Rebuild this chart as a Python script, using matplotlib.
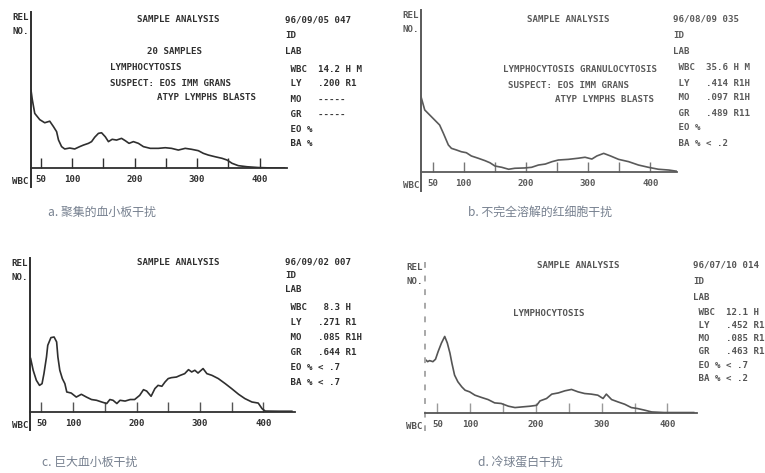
import matplotlib.pyplot as plt

plt.rcParams['font.family'] = ['DejaVu Sans Mono']
plt.rcParams['font.weight'] = 'bold'

FIG_W, FIG_H = 765, 473
FS = 6.6

# WBC size distributions (fL vs relative count) for the four interference cases
A_FL = [34, 36, 40, 48, 56, 64, 70, 75, 78, 83, 88, 96, 104, 112, 118, 126, 131,
        136, 142, 147, 153, 158, 164, 171, 179, 185, 191, 198, 206, 214, 225, 238,
        249, 259, 270, 281, 291, 302, 310, 318, 329, 340, 348, 356, 366, 380, 398,
        420, 440]
A_CNT = [50, 44, 35, 31, 29, 30, 26.5, 23.3, 18, 13.7, 12.2, 12.8, 12.2, 13.7, 14.7,
         15.8, 16.9, 19.7, 22.2, 22.6, 20, 16.9, 18.4, 17.9, 19, 17.5, 15.8, 16.9,
         15.8, 13.7, 12.6, 12.6, 13, 12.6, 11.5, 12.6, 12, 11.1, 9.4, 8.3, 7.2, 6.2,
         5.1, 3, 1.5, 0.8, 0.3, 0, 0]

B_FL = [31, 37, 45, 53, 61, 67, 75, 80, 88, 96, 104, 112, 123, 134, 142, 150, 161,
        172, 182, 198, 209, 220, 231, 242, 252, 268, 284, 295, 306, 314, 325, 336,
        349, 365, 381, 397, 413, 430, 442]
B_CNT = [46.5, 38.3, 35.2, 32.1, 29, 23.9, 16.7, 14.6, 13.6, 12.5, 11.9, 9.9, 8.5, 7,
         5.7, 3.7, 2.9, 1.7, 2.3, 2.5, 2.9, 4.3, 4.9, 6.4, 7.4, 7.8, 8.5, 9.1, 8, 9.9,
         11.5, 9.9, 7.8, 6.4, 4.3, 2.9, 1.7, 1.2, 0.5]

C_FL = [33, 37, 42, 47, 51, 54, 58, 60, 65, 70, 74, 76, 79, 83, 87, 90, 97, 105, 113,
        121, 129, 137, 145, 153, 158, 163, 169, 174, 182, 190, 197, 205, 211, 216,
        223, 229, 234, 240, 245, 250, 255, 263, 269, 276, 282, 287, 292, 297, 305,
        311, 319, 329, 340, 350, 361, 371, 382, 392, 398, 403, 424, 445]
C_CNT = [34.7, 27.1, 20.6, 17.3, 18.4, 24.9, 35.7, 43.3, 48.3, 48.7, 45.5, 35.7, 27.1,
         21.7, 18.4, 13, 12.3, 9.7, 11.5, 9.7, 8.1, 7.6, 6.5, 5.5, 8.1, 7.6, 5.5, 7.6,
         7.1, 8.1, 8.1, 10.8, 14.5, 13.6, 10.2, 15.2, 17.3, 16.7, 19.5, 21.7, 22.3,
         22.7, 23.8, 24.9, 27.5, 26, 27.1, 25.3, 28.2, 24.9, 23.8, 21.7, 18.4, 15.2,
         11.5, 8.7, 6.5, 5.8, 2.2, 0.6, 0.5, 0.5]

D_FL = [31, 35, 38, 43, 47, 51, 56, 61, 65, 69, 72, 76, 81, 87, 92, 99, 107, 117, 127,
        137, 147, 158, 168, 178, 191, 201, 206, 216, 224, 234, 244, 254, 264, 274,
        284, 294, 302, 307, 315, 325, 335, 345, 355, 366, 376, 395, 440]
D_CNT = [35.6, 34, 34.7, 34, 35.6, 40.7, 46.3, 50.7, 46.3, 39.6, 32.9, 25.1, 20.7,
         17.3, 15.1, 14, 11.8, 10.3, 8.9, 6.7, 6.3, 4.5, 3.6, 4, 4.5, 5.1, 8, 9.6,
         12.5, 13.3, 14.7, 15.6, 14, 12.9, 12.5, 11.8, 9.6, 12.5, 8.9, 7.3, 5.8, 3.6,
         2.9, 1.8, 0.7, 0.3, 0.3]

TICK_FL = [50, 100, 150, 200, 250, 300, 350, 400]
TICK_LABELS = ['50', '100', '', '200', '', '300', '', '400']

# printout text next to each histogram
A_INFO = ['96/09/05 047', 'ID', 'LAB', ' WBC  14.2 H M', ' LY   .200 R1',
          ' MO   -----', ' GR   -----', ' EO %', ' BA %']
B_INFO = ['96/08/09 035', 'ID', 'LAB', ' WBC  35.6 H M', ' LY   .414 R1H',
          ' MO   .097 R1H', ' GR   .489 R11', ' EO %', ' BA % < .2']
C_INFO = ['96/09/02 007', 'ID', 'LAB', ' WBC   8.3 H', ' LY   .271 R1',
          ' MO   .085 R1H', ' GR   .644 R1', ' EO % < .7', ' BA % < .7']
D_INFO = ['96/07/10 014', 'ID', 'LAB', ' WBC  12.1 H', ' LY   .452 R1',
          ' MO   .085 R1', ' GR   .463 R1', ' EO % < .7', ' BA % < .2']

A_FLAGS = [('20 SAMPLES', 147, 52), ('LYMPHOCYTOSIS', 110, 68),
           ('SUSPECT: EOS IMM GRANS', 110, 83), ('ATYP LYMPHS BLASTS', 157, 98)]
B_FLAGS = [('LYMPHOCYTOSIS GRANULOCYTOSIS', 503, 70),
           ('SUSPECT: EOS IMM GRANS', 508, 85), ('ATYP LYMPHS BLASTS', 555, 100)]
C_FLAGS = []
D_FLAGS = [('LYMPHOCYTOSIS', 513, 313)]

CAPTIONS = ['a. 聚集的血小板干扰', 'b. 不完全溶解的红细胞干扰',
            'c. 巨大血小板干扰', 'd. 冷球蛋白干扰']


def px_text(fig, x, y, s, **kw):
    """Place text using pixel coordinates measured from the top-left corner."""
    return fig.text(x / FIG_W, 1 - y / FIG_H, s, **kw)


def draw_panel(fig, fl, cnt, info, flags, caption, lay):
    left, base, top, right = lay['box']
    lo, hi = lay['fl_range']
    ink = lay['ink']
    ax = fig.add_axes([left / FIG_W, 1 - base / FIG_H,
                       (right - left) / FIG_W, (base - top) / FIG_H])
    ax.patch.set_alpha(0)
    ax.set_xlim(lo, hi)
    ax.set_ylim(0, 100)
    ax.plot(fl, cnt, color=ink, lw=1.2, solid_joinstyle='round')
    for side in ('top', 'right', 'left'):
        ax.spines[side].set_visible(False)
    ax.spines['bottom'].set_color(ink)
    ax.spines['bottom'].set_linewidth(1.3)
    ax.set_yticks([])
    ax.set_xticks(TICK_FL)
    ax.set_xticklabels(TICK_LABELS)
    ax.tick_params(axis='x', direction='in', length=7, width=1,
                   colors=lay['tick_ink'], labelcolor=ink, pad=5, labelsize=FS)
    # vertical axis also runs down through the label row
    ax.plot([lo, lo], [100, -12], color=lay['yaxis_ink'], lw=1.4,
            ls=lay['yaxis_ls'], clip_on=False)

    px_text(fig, left - 2, base + 13, 'WBC', ha='right', va='center',
            fontsize=FS, color=ink)
    px_text(fig, left - 2, top + 6, 'REL', ha='right', va='center',
            fontsize=FS, color=ink)
    px_text(fig, left - 2, top + 19, 'NO.', ha='right', va='center',
            fontsize=FS, color=ink)

    px_text(fig, lay['title_x'], lay['info_y'], 'SAMPLE ANALYSIS', ha='center',
            va='center', fontsize=FS, color=ink)
    for s, x, y in flags:
        px_text(fig, x, y, s, ha='left', va='center', fontsize=FS, color=ink)

    y0, head_gap = lay['info_y'], lay['head_gap']
    first_row, step = lay['first_row'], lay['row_step']
    for i, s in enumerate(info):
        y = y0 + i * head_gap if i < 3 else y0 + first_row + (i - 3) * step
        px_text(fig, lay['info_x'], y, s, ha='left', va='center',
                fontsize=FS, color=ink)

    cx, cy = lay['caption']
    px_text(fig, cx, cy, caption, ha='left', va='center', fontsize=8.6,
            color='#76808f', family=['Noto Sans CJK SC', 'DejaVu Sans'],
            weight='light')


LAYOUT = [
    dict(box=(31, 168, 12, 287), fl_range=(34, 444), ink='#2f2f2f',
         tick_ink='#2f2f2f', yaxis_ink='#2f2f2f', yaxis_ls='-',
         title_x=178, info_x=285, info_y=20, head_gap=16, first_row=49,
         row_step=15, caption=(48, 212)),
    dict(box=(421, 172, 10, 677), fl_range=(31, 443), ink='#5a5a5a',
         tick_ink='#777777', yaxis_ink='#5a5a5a', yaxis_ls='-',
         title_x=568, info_x=673, info_y=19, head_gap=16, first_row=49,
         row_step=15, caption=(468, 212)),
    dict(box=(30, 412, 258, 295), fl_range=(32, 450), ink='#2f2f2f',
         tick_ink='#555555', yaxis_ink='#2f2f2f', yaxis_ls='-',
         title_x=178, info_x=285, info_y=262, head_gap=14, first_row=45,
         row_step=15, caption=(42, 462)),
    dict(box=(425, 413, 262, 697), fl_range=(31, 445), ink='#555555',
         tick_ink='#9a9a9a', yaxis_ink='#a8a8a8', yaxis_ls=(0, (3, 4)),
         title_x=578, info_x=693, info_y=265, head_gap=16,
         first_row=47, row_step=13.3, caption=(478, 462)),
]

fig = plt.figure(figsize=(FIG_W / 100, FIG_H / 100), dpi=100, facecolor='white')
panels = [(A_FL, A_CNT, A_INFO, A_FLAGS), (B_FL, B_CNT, B_INFO, B_FLAGS),
          (C_FL, C_CNT, C_INFO, C_FLAGS), (D_FL, D_CNT, D_INFO, D_FLAGS)]
for (fl, cnt, info, flags), caption, lay in zip(panels, CAPTIONS, LAYOUT):
    draw_panel(fig, fl, cnt, info, flags, caption, lay)

fig.savefig('out.png', dpi=100, facecolor='white')
